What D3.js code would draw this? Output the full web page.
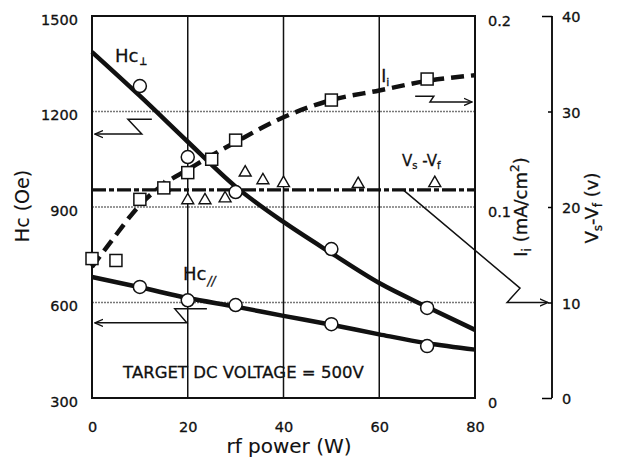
<!DOCTYPE html>
<html>
<head>
<meta charset="utf-8">
<script src="https://cdn.jsdelivr.net/npm/d3@7"></script>
<style>
  html, body { margin: 0; padding: 0; background: #fff; }
  svg { display: block; }
  text { font-family: "DejaVu Sans", sans-serif; fill: #111; stroke: #111; stroke-width: 0.3px; }
</style>
</head>
<body>
<svg id="chart" width="617" height="463"></svg>
<script>
// ---- data ----
const xTicks = [0, 20, 40, 60, 80];
const hcTicks = [300, 600, 900, 1200, 1500];
const iiTicks = [0, 0.1, 0.2];
const vTicks = [0, 10, 20, 30, 40];
const hcGrid = [600, 900, 1200];
const xGrid = [20, 40, 60];

// Hc perpendicular: measured points and fitted curve
const hcPerpX = [10, 20, 30, 50, 70];
const hcPerpY = [1280, 1057, 947, 768, 583];
const hcPerpCurveX = [0, 10, 20, 30, 40, 50, 60, 70, 80];
const hcPerpCurveY = [1387, 1249, 1105, 964, 853, 755, 661, 586, 514];

// Hc parallel
const hcParX = [10, 20, 30, 50, 70];
const hcParY = [649, 607, 592, 532, 463];
const hcParCurveX = [0, 10, 20, 30, 40, 50, 60, 70, 80];
const hcParCurveY = [680, 648, 614, 587, 558, 530, 500, 472, 452];

// Ion current Ii (mA/cm2)
const iiX = [0, 5, 10, 15, 20, 25, 30, 50, 70];
const iiY = [0.073, 0.072, 0.104, 0.110, 0.118, 0.125, 0.135, 0.156, 0.167];
const iiCurveX = [0, 4, 10, 15, 20, 25, 30, 40, 50, 60, 70, 80];
const iiCurveY = [0.0686, 0.082, 0.101, 0.112, 0.1195, 0.127, 0.134, 0.147, 0.156, 0.161, 0.166, 0.169];

// Vs - Vf (V)
const vX = [15, 20, 23.6, 27.8, 32, 35.7, 40, 55.6, 71.6];
const vY = [22.0, 20.7, 20.7, 20.9, 23.6, 22.8, 22.5, 22.4, 22.5];
const vLineX = [0, 80];
const vLineY = [21.8, 21.8];

// ---- layout ----
const svg = d3.select("#chart");
const L = 92, R = 475, T = 16, B = 398;
const x = d3.scaleLinear().domain([0, 80]).range([L, R]);
const yHc = d3.scaleLinear().domain([300, 1500]).range([B, T]);
const yIi = d3.scaleLinear().domain([0, 0.2]).range([B, T]);
const yV = d3.scaleLinear().domain([0, 40]).range([B, T]);
const vAxisX = 552;

// arrow marker
const defs = svg.append("defs");
defs.append("marker").attr("id", "arr").attr("viewBox", "0 -5 10 10")
  .attr("refX", 9).attr("refY", 0).attr("markerWidth", 9).attr("markerHeight", 9)
  .attr("markerUnits", "userSpaceOnUse").attr("orient", "auto")
  .append("path").attr("d", "M0,-4L9,0L0,4").attr("fill", "none")
  .attr("stroke", "#111").attr("stroke-width", 1.4);

// grid
svg.append("g").selectAll("line").data(hcGrid).join("line")
  .attr("x1", L).attr("x2", R).attr("y1", d => yHc(d)).attr("y2", d => yHc(d))
  .attr("stroke", "#777").attr("stroke-width", 1.6).attr("stroke-dasharray", "2,1");
svg.append("g").selectAll("line").data(xGrid).join("line")
  .attr("x1", d => x(d)).attr("x2", d => x(d)).attr("y1", T).attr("y2", B)
  .attr("stroke", "#111").attr("stroke-width", 1.5);

// frame
svg.append("rect").attr("x", L).attr("y", T).attr("width", R - L).attr("height", B - T)
  .attr("fill", "none").attr("stroke", "#111").attr("stroke-width", 2);

// axes
const axL = svg.append("g").attr("transform", `translate(${L},0)`)
  .call(d3.axisLeft(yHc).tickValues(hcTicks).tickSize(0).tickPadding(14).tickFormat(d3.format("d")));
const axB = svg.append("g").attr("transform", `translate(0,${B})`)
  .call(d3.axisBottom(x).tickValues(xTicks).tickSize(0).tickPadding(24));
const axR = svg.append("g").attr("transform", `translate(${R},0)`)
  .call(d3.axisRight(yIi).tickValues(iiTicks).tickSize(0).tickPadding(13).tickFormat(d => d === 0 ? "0" : d3.format(".1f")(d)));
const axV = svg.append("g").attr("transform", `translate(${vAxisX},0)`)
  .call(d3.axisRight(yV).tickValues(vTicks).tickSize(0).tickPadding(10));
const axVt = svg.append("g").attr("transform", `translate(${vAxisX},0)`)
  .call(d3.axisLeft(yV).tickValues(vTicks).tickSize(4).tickFormat(""));
axVt.selectAll(".tick line").filter(d => d === 0 || d === 40).attr("x2", -10);
[axL, axB, axR, axV].forEach(a => a.select(".domain").remove());
axVt.select(".domain").attr("stroke-width", 1.8).attr("d", `M0,${T}V${B}`);
axVt.selectAll(".tick line").attr("stroke-width", 1.5);
svg.selectAll(".tick text").style("font-family", "DejaVu Sans, sans-serif")
  .style("font-size", "14.5px").attr("fill", "#111");
axL.selectAll(".tick text").attr("dy", "0.85em").attr("y", -4);
axR.selectAll(".tick text").attr("dy", "0.62em");
axV.selectAll(".tick text").attr("dy", "0.38em");

// curves
const line = (xs, ys, ys_scale) => d3.line().curve(d3.curveMonotoneX)
  .x((d, i) => x(xs[i])).y((d, i) => ys_scale(ys[i]))(xs);

svg.append("path").attr("d", line(hcPerpCurveX, hcPerpCurveY, yHc))
  .attr("fill", "none").attr("stroke", "#111").attr("stroke-width", 4.5);
svg.append("path").attr("d", line(hcParCurveX, hcParCurveY, yHc))
  .attr("fill", "none").attr("stroke", "#111").attr("stroke-width", 4.5);
svg.append("path").attr("d", line(iiCurveX, iiCurveY, yIi))
  .attr("fill", "none").attr("stroke", "#111").attr("stroke-width", 4.5)
  .attr("stroke-dasharray", "13,7");
svg.append("path").attr("d", line(vLineX, vLineY, yV))
  .attr("fill", "none").attr("stroke", "#111").attr("stroke-width", 3.2)
  .attr("stroke-dasharray", "14,3,5,3");

// markers
svg.append("g").selectAll("path").data(vX).join("path")
  .attr("transform", (d, i) => `translate(${x(d)},${yV(vY[i])})`)
  .attr("d", d3.symbol(d3.symbolTriangle, 62))
  .attr("fill", "#fff").attr("stroke", "#111").attr("stroke-width", 1.4);
svg.append("g").selectAll("rect").data(iiX).join("rect")
  .attr("x", d => x(d) - 6).attr("y", (d, i) => yIi(iiY[i]) - 6)
  .attr("width", 12).attr("height", 12)
  .attr("fill", "#fff").attr("stroke", "#111").attr("stroke-width", 1.5);
svg.append("g").selectAll("circle").data(hcPerpX).join("circle")
  .attr("cx", d => x(d)).attr("cy", (d, i) => yHc(hcPerpY[i])).attr("r", 6.5)
  .attr("fill", "#fff").attr("stroke", "#111").attr("stroke-width", 1.5);
svg.append("g").selectAll("circle").data(hcParX).join("circle")
  .attr("cx", d => x(d)).attr("cy", (d, i) => yHc(hcParY[i])).attr("r", 6.5)
  .attr("fill", "#fff").attr("stroke", "#111").attr("stroke-width", 1.5);

// annotation arrows (data coordinates)
const arrows = [
  { pts: [[12.5, 1176], [7.5, 1176], [10.4, 1129], [0.6, 1129]], s: yHc },
  { pts: [[24, 580], [17.3, 580], [19.8, 536], [0.6, 536]], s: yHc },
  { pts: [[67.5, 0.158], [71.4, 0.158], [70.6, 0.155], [79.4, 0.155]], s: yIi },
  { pts: [[65, 21.8], [89.4, 11.5], [86.7, 10.0], [95.2, 10.0]], s: yV }
];
arrows.forEach(a => {
  svg.append("path")
    .attr("d", d3.line().x(p => x(p[0])).y(p => a.s(p[1]))(a.pts))
    .attr("fill", "none").attr("stroke", "#111").attr("stroke-width", 1.5)
    .attr("marker-end", "url(#arr)");
});

// labels
const t1 = svg.append("text").attr("x", x(4.8)).attr("y", yHc(1355)).style("font-size", "18px");
t1.append("tspan").text("Hc");
t1.append("tspan").text("\u22A5").attr("dy", 3).attr("dx", 1)
  .style("font-size", "12px").style("font-family", "'DejaVu Sans Mono', 'DejaVu Sans', 'Noto Sans', sans-serif")
  .style("fill", "#111");

const t2 = svg.append("text").attr("x", x(19)).attr("y", yHc(671)).style("font-size", "18px");
t2.append("tspan").text("Hc");
t2.append("tspan").text("//").attr("dy", 5).style("font-size", "12px").style("font-style", "italic").attr("dx", 1);

const t3 = svg.append("text").attr("x", x(60.4)).attr("y", yIi(0.1654)).style("font-size", "17px");
t3.append("tspan").text("I");
t3.append("tspan").text("i").attr("dy", 4).style("font-size", "11px");

const t4 = svg.append("text").attr("x", x(64.75)).attr("y", yV(24.3)).style("font-size", "15px");
t4.append("tspan").text("V");
t4.append("tspan").text("s").attr("dy", 3).style("font-size", "10px");
t4.append("tspan").text(" -V").attr("dy", -3);
t4.append("tspan").text("f").attr("dy", 3).style("font-size", "10px");

svg.append("text").attr("x", x(6.5)).attr("y", yHc(363))
  .style("font-size", "16.5px").text("TARGET DC VOLTAGE = 500V");

// axis titles
svg.append("text").attr("transform", `translate(29,206) rotate(-90)`)
  .attr("text-anchor", "middle").style("font-size", "19px").style("stroke-width", "0.1px").text("Hc (Oe)");
svg.append("text").attr("x", 289).attr("y", 453)
  .attr("text-anchor", "middle").style("font-size", "20px").style("stroke-width", "0.1px").text("rf power (W)");
const ti = svg.append("text").attr("transform", `translate(527,207) rotate(-90)`)
  .attr("text-anchor", "middle").style("font-size", "18px");
ti.append("tspan").text("I");
ti.append("tspan").text("i").attr("dy", 4).style("font-size", "12px");
ti.append("tspan").text(" (mA/cm").attr("dy", -4);
ti.append("tspan").text("2").attr("dy", -8).style("font-size", "12px");
ti.append("tspan").text(")").attr("dy", 8);
const tv = svg.append("text").attr("transform", `translate(598,208) rotate(-90)`)
  .attr("text-anchor", "middle").style("font-size", "18px");
tv.append("tspan").text("V");
tv.append("tspan").text("s").attr("dy", 4).style("font-size", "12px");
tv.append("tspan").text("-V").attr("dy", -4);
tv.append("tspan").text("f").attr("dy", 4).style("font-size", "12px");
tv.append("tspan").text(" (v)").attr("dy", -4);
</script>
</body>
</html>
